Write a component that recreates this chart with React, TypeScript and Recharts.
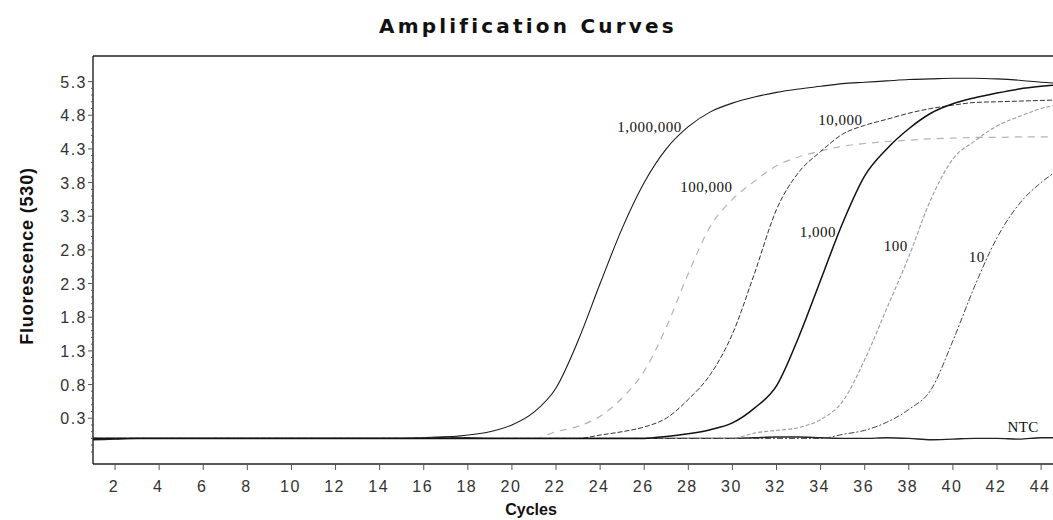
import React from "react";
import { LineChart, Line, XAxis, YAxis, ReferenceLine, ReferenceDot, Label } from "recharts";

// cycle numbers (x)
const cycles = [
  1, 2, 3, 4, 5, 6, 7, 8, 9, 10, 11, 12, 13, 14, 15, 16, 17, 18, 19, 20, 21, 22, 23,
  24, 25, 26, 27, 28, 29, 30, 31, 32, 33, 34, 35, 36, 37, 38, 39, 40, 41, 42, 43, 44, 45,
];

// fluorescence per standard (copies)
const copies1e6 = [
  0, 0, 0, 0, 0, 0, 0, 0, 0, 0, 0, 0, 0, 0, 0, 0, 0.02, 0.05, 0.1, 0.2, 0.39, 0.75, 1.45,
  2.3, 3.12, 3.8, 4.3, 4.63, 4.85, 4.98, 5.07, 5.14, 5.19, 5.23, 5.27, 5.29, 5.31, 5.33, 5.34, 5.35, 5.35, 5.34, 5.32, 5.29, 5.27,
];
const copies1e5 = [
  0, 0, 0, 0, 0, 0, 0, 0, 0, 0, 0, 0, 0, 0, 0, 0, 0, 0, 0, 0, 0, 0.1, 0.18,
  0.33, 0.6, 1.0, 1.65, 2.45, 3.15, 3.55, 3.82, 4.05, 4.18, 4.27, 4.34, 4.38, 4.41, 4.43, 4.45, 4.46, 4.47, 4.47, 4.48, 4.48, 4.48,
];
const copies1e4 = [
  0, 0, 0, 0, 0, 0, 0, 0, 0, 0, 0, 0, 0, 0, 0, 0, 0, 0, 0, 0, 0, 0, 0,
  0.05, 0.1, 0.17, 0.3, 0.58, 0.95, 1.55, 2.45, 3.4, 3.95, 4.26, 4.52, 4.65, 4.74, 4.83, 4.9, 4.95, 4.99, 5.0, 5.01, 5.02, 5.03,
];
const copies1e3 = [
  0, 0, 0, 0, 0, 0, 0, 0, 0, 0, 0, 0, 0, 0, 0, 0, 0, 0, 0, 0, 0, 0, 0,
  0, 0, 0, 0.03, 0.07, 0.13, 0.23, 0.45, 0.78, 1.5, 2.35, 3.2, 3.9, 4.3, 4.6, 4.83, 4.97, 5.06, 5.13, 5.19, 5.23, 5.26,
];
const copies1e2 = [
  0, 0, 0, 0, 0, 0, 0, 0, 0, 0, 0, 0, 0, 0, 0, 0, 0, 0, 0, 0, 0, 0, 0,
  0, 0, 0, 0, 0, 0, 0, 0.08, 0.12, 0.16, 0.28, 0.55, 1.17, 1.93, 2.7, 3.55, 4.15, 4.42, 4.64, 4.78, 4.9, 4.97,
];
const copies1e1 = [
  0, 0, 0, 0, 0, 0, 0, 0, 0, 0, 0, 0, 0, 0, 0, 0, 0, 0, 0, 0, 0, 0, 0,
  0, 0, 0, 0, 0, 0, 0, 0, 0, 0, 0, 0.06, 0.12, 0.24, 0.43, 0.72, 1.45, 2.27, 2.98, 3.48, 3.8, 4.03,
];
const ntc = [
  -0.02, -0.01, 0, 0, 0, 0, 0, 0, 0, 0, 0, 0, 0, 0, 0, 0.01, 0.02, 0.01, 0, 0, 0, 0, 0,
  0, 0, 0, 0, 0, 0, 0, 0.01, 0.02, 0.02, 0.01, 0, 0, 0.01, 0, -0.02, -0.01, 0, 0, -0.01, 0.01, 0.01,
];

const xTicks = [2, 4, 6, 8, 10, 12, 14, 16, 18, 20, 22, 24, 26, 28, 30, 32, 34, 36, 38, 40, 42, 44];
const yMajorTicks = [0.3, 0.8, 1.3, 1.8, 2.3, 2.8, 3.3, 3.8, 4.3, 4.8, 5.3];

// text next to each curve: [label, cycle, fluorescence] at the label's right end
const curveLabels: [string, number, number][] = [
  ["1,000,000", 27.7, 4.55],
  ["10,000", 35.9, 4.66],
  ["100,000", 30.0, 3.66],
  ["1,000", 34.7, 2.99],
  ["100", 37.95, 2.78],
  ["10", 41.45, 2.62],
  ["NTC", 43.9, 0.09],
];

const xDomain = [1, 44.54];
const yDomain = [-0.38, 5.68];

const yAllTicks = [-0.2, -0.1, 0, 0.1, 0.2].concat(
  ...yMajorTicks.map((m) => [0, 1, 2, 3, 4].map((k) => Math.round((m + k / 10) * 10) / 10))
).filter((v) => v <= 5.3);

const data = cycles.map((c, i) => ({
  cycle: c,
  c1e6: copies1e6[i],
  c1e5: copies1e5[i],
  c1e4: copies1e4[i],
  c1e3: copies1e3[i],
  c1e2: copies1e2[i],
  c1e1: copies1e1[i],
  ntc: ntc[i],
}));

const series = [
  { key: "ntc", color: "#222", width: 1.4, dash: undefined },
  { key: "c1e5", color: "#b4b4b4", width: 1.2, dash: "7 6" },
  { key: "c1e2", color: "#9a9a9a", width: 1.1, dash: "4 2" },
  { key: "c1e1", color: "#444", width: 1, dash: "6 2 2 2" },
  { key: "c1e4", color: "#333", width: 1, dash: "5 2" },
  { key: "c1e6", color: "#1a1a1a", width: 1.1, dash: undefined },
  { key: "c1e3", color: "#111", width: 1.5, dash: undefined },
];

const PLOT_LEFT = 93;
const sans = "'Liberation Sans', Arial, sans-serif";

const YTick = (props: any) => {
  const { y, payload } = props;
  const v = Math.round(payload.value * 10) / 10;
  const major = yMajorTicks.includes(v);
  return (
    <g>
      <line x1={PLOT_LEFT - (major ? 5 : 2)} x2={PLOT_LEFT} y1={y} y2={y} stroke="#555" strokeWidth={1} />
      {major && (
        <text x={PLOT_LEFT - 6} y={y + 6} textAnchor="end" fontFamily={sans} fontSize={16} fill="#333" style={{ letterSpacing: 1.5 }}>
          {v.toFixed(1)}
        </text>
      )}
    </g>
  );
};

const XTick = (props: any) => {
  const { x, payload } = props;
  return (
    <text x={x - 1} y={492} textAnchor="middle" fontFamily={sans} fontSize={16} fill="#333" style={{ letterSpacing: 1.5 }}>
      {payload.value}
    </text>
  );
};

const curveLabel = (text: string) => (props: any) => {
  const { viewBox } = props;
  return (
    <text x={viewBox.x} y={viewBox.y} textAnchor="end" fontFamily="'Liberation Serif', 'Times New Roman', serif" fontSize={15} fill="#111" style={{ letterSpacing: 0.5 }}>
      {text}
    </text>
  );
};

export default function App() {
  return (
    <div style={{ position: "absolute", left: 0, top: 0, width: 1053, height: 520, background: "#fff", overflow: "hidden" }}>
      <div
        style={{
          position: "absolute",
          left: 379,
          top: 15,
          fontFamily: "'DejaVu Sans', sans-serif",
          fontWeight: 700,
          fontSize: 20,
          lineHeight: "22px",
          letterSpacing: 3.2,
          color: "#111",
          whiteSpace: "nowrap",
        }}
      >
        Amplification Curves
      </div>
      <LineChart width={1053} height={520} data={data} margin={{ top: 56, right: 0, bottom: 0, left: 0 }}>
        <XAxis
          dataKey="cycle"
          type="number"
          domain={xDomain}
          allowDataOverflow
          ticks={xTicks}
          interval={0}
          height={56}
          tickSize={6}
          tickLine={{ stroke: "#555" }}
          axisLine={{ stroke: "#222", strokeWidth: 1.4 }}
          tick={<XTick />}
        >
          <Label
            content={() => (
              <text x={531} y={515} textAnchor="middle" fontFamily={sans} fontWeight={700} fontSize={16} fill="#111">
                Cycles
              </text>
            )}
          />
        </XAxis>
        <YAxis
          type="number"
          domain={yDomain}
          allowDataOverflow
          ticks={yAllTicks}
          interval={0}
          width={93}
          tickLine={false}
          axisLine={{ stroke: "#222", strokeWidth: 1.4 }}
          tick={<YTick />}
        >
          <Label
            content={() => (
              <text
                x={33}
                y={256}
                transform="rotate(-90 33 256)"
                textAnchor="middle"
                fontFamily={sans}
                fontWeight={700}
                fontSize={18}
                fill="#111"
                style={{ letterSpacing: 0.8 }}
              >
                Fluorescence (530)
              </text>
            )}
          />
        </YAxis>
        <ReferenceLine y={yDomain[1]} stroke="#222" strokeWidth={1.4} />
        {series.map((s) => (
          <Line
            key={s.key}
            dataKey={s.key}
            type="monotone"
            stroke={s.color}
            strokeWidth={s.width}
            strokeDasharray={s.dash}
            dot={false}
            activeDot={false}
            isAnimationActive={false}
          />
        ))}
        {curveLabels.map(([text, cx, cy]) => (
          <ReferenceDot key={text} x={cx} y={cy} r={0} fill="none" stroke="none" label={curveLabel(text)} />
        ))}
      </LineChart>
    </div>
  );
}
